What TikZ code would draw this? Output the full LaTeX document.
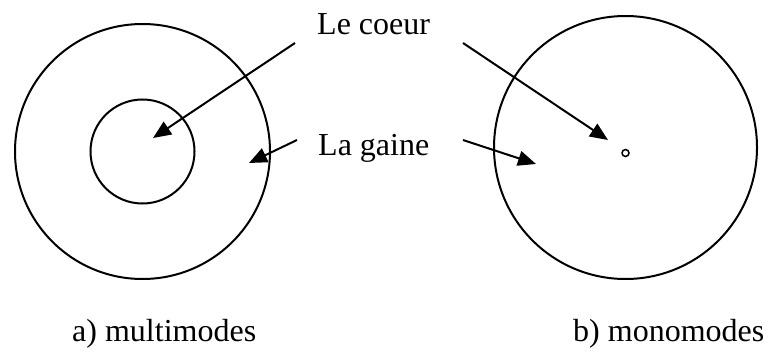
\documentclass[tikz,border=0pt]{standalone}
\usepackage{fontspec}
\setmainfont{Liberation Serif}
\usetikzlibrary{arrows.meta}
\begin{document}
\begin{tikzpicture}[x=1pt,y=-1pt,
  ring/.style={line width=2pt},
  pointer/.style={line width=2pt,-{Triangle[length=18pt,width=15pt]}},
  lbl/.style={anchor=base west,inner sep=0pt,font=\fontsize{32}{38}\selectfont}]
\useasboundingbox (0,0) rectangle (768,353);
% left fibre (multimode)
\coordinate (lc) at (142.5,151.5);
\draw[ring] (lc) circle[radius=127.5pt];
\draw[ring] (lc) circle[radius=52pt];
% right fibre (monomode)
\coordinate (rc) at (625.5,147.5);
\draw[ring] (rc) circle[radius=131.5pt];
\node[circle,draw,line width=1.5pt,minimum size=7pt,inner sep=0pt] (core) at (625.5,153) {};
% labels
\node[lbl] (coeur) at (317,35) {Le coeur};
\node[lbl] (gaine) at (318,155) {La gaine};
\node[lbl] (multi) at (72,341) {a) multimodes};
\node[lbl] (mono) at (573,341) {b) monomodes};
% arrow ends
\coordinate (c1s) at (295,43);
\coordinate (c1t) at (153,138);
\coordinate (g1s) at (297,140);
\coordinate (g1t) at (249,163);
\coordinate (c2s) at (463,43);
\coordinate (c2t) at (608,140);
\coordinate (g2s) at (463,140);
\coordinate (g2t) at (536,164);
\draw[pointer] (c1s) -- (c1t);
\draw[pointer] (g1s) -- (g1t);
\draw[pointer] (c2s) -- (c2t);
\draw[pointer] (g2s) -- (g2t);
\end{tikzpicture}
\end{document}
